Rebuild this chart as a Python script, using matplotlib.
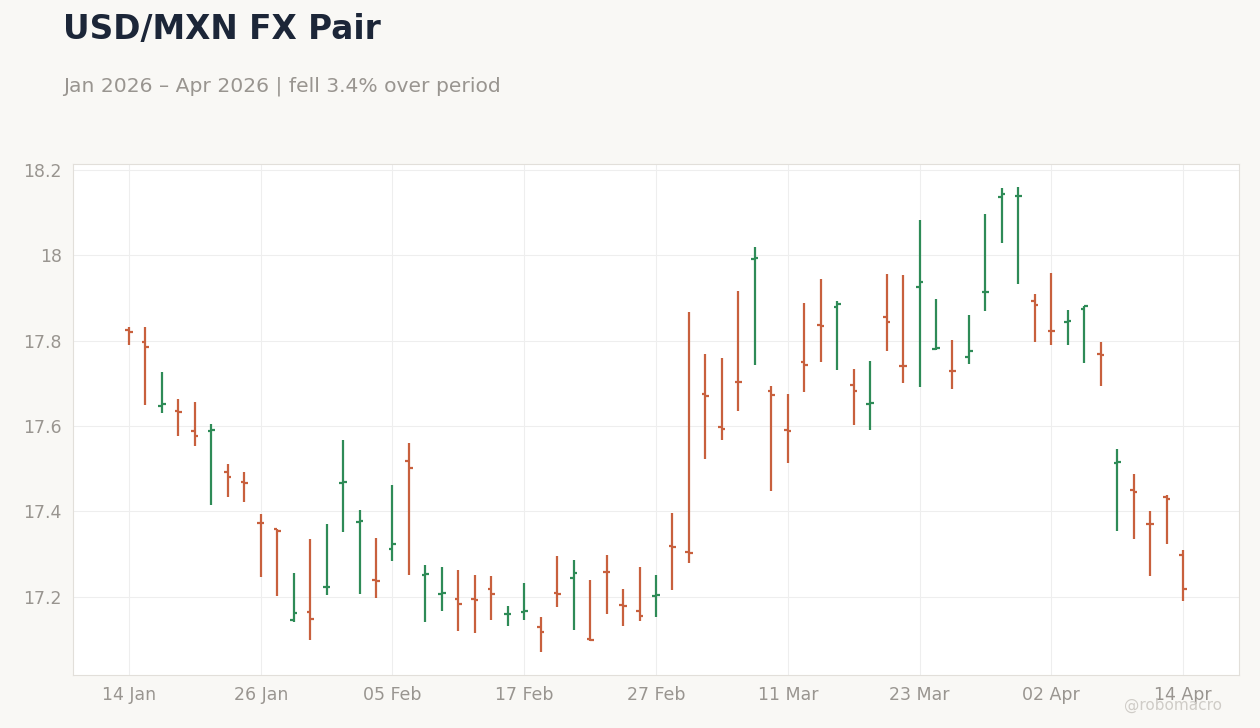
import matplotlib
matplotlib.use("Agg")
import matplotlib.pyplot as plt
import pandas as pd

dates = pd.bdate_range("2026-01-14", "2026-04-14")
opens = [17.825,17.797,17.648,17.635,17.589,17.589,17.493,17.469,17.373,17.358,17.146,17.165,17.223,17.467,17.376,17.240,17.312,17.518,
         17.251,17.207,17.196,17.194,17.219,17.160,17.165,17.130,17.208,17.244,17.102,17.259,17.181,17.168,17.203,17.320,17.306,
         17.675,17.598,17.704,17.992,17.683,17.591,17.750,17.837,17.879,17.697,17.652,17.856,17.741,
         17.926,17.781,17.729,17.762,17.914,18.137,18.139,17.893,17.823,17.844,17.874,17.769,17.514,17.451,17.371,17.434,17.298]
highs = [17.832,17.832,17.727,17.664,17.657,17.605,17.511,17.493,17.394,17.359,17.256,17.336,17.371,17.568,17.404,17.338,17.462,17.560,
         17.275,17.270,17.263,17.251,17.249,17.179,17.233,17.153,17.296,17.287,17.240,17.298,17.219,17.270,17.252,17.397,17.867,
         17.769,17.760,17.917,18.020,17.694,17.675,17.888,17.945,17.893,17.734,17.753,17.956,17.954,
         18.083,17.898,17.802,17.860,18.097,18.158,18.160,17.910,17.959,17.872,17.881,17.797,17.547,17.488,17.401,17.439,17.310]
lows = [17.790,17.650,17.631,17.577,17.554,17.415,17.434,17.422,17.247,17.202,17.141,17.099,17.205,17.352,17.207,17.198,17.284,17.252,
        17.141,17.167,17.120,17.116,17.146,17.132,17.146,17.071,17.177,17.123,17.097,17.160,17.132,17.144,17.153,17.216,17.280,
        17.523,17.568,17.636,17.743,17.448,17.514,17.680,17.750,17.732,17.603,17.591,17.776,17.701,
        17.692,17.778,17.687,17.746,17.870,18.029,17.933,17.797,17.790,17.790,17.748,17.694,17.355,17.336,17.249,17.324,17.191]
closes = [17.820,17.785,17.652,17.632,17.577,17.591,17.481,17.467,17.372,17.355,17.163,17.149,17.224,17.468,17.378,17.238,17.324,17.502,
          17.253,17.208,17.184,17.193,17.207,17.161,17.166,17.118,17.206,17.256,17.098,17.258,17.179,17.156,17.204,17.318,17.303,
          17.671,17.593,17.703,17.993,17.673,17.589,17.743,17.834,17.886,17.683,17.653,17.845,17.740,
          17.938,17.783,17.728,17.776,17.915,18.144,18.140,17.884,17.822,17.847,17.881,17.767,17.515,17.446,17.370,17.429,17.218]

UP = "#2e8b57"
DOWN = "#c8603d"

fig = plt.figure(figsize=(12.6, 7.28), dpi=100, facecolor="#f9f8f5")
ax = fig.add_axes([73/1260, 1-675/728, (1239-73)/1260, (675-164)/728])
ax.set_facecolor("white")

x = list(range(len(dates)))
cols = [UP if c >= o else DOWN for o, c in zip(opens, closes)]
ax.vlines(x, lows, highs, colors=cols, linewidth=1.6)
w = 0.22
ax.hlines(opens, [i - w for i in x], x, colors=cols, linewidth=1.6)
ax.hlines(closes, x, [i + w for i in x], colors=cols, linewidth=1.6)

ax.set_xlim(-3.4, 67.4)
ax.set_ylim(17.017, 18.214)
tick_idx = list(range(0, len(dates), 8))
ax.set_xticks(tick_idx)
ax.set_xticklabels([dates[i].strftime("%d %b") for i in tick_idx])
ax.set_yticks([17.2, 17.4, 17.6, 17.8, 18.0, 18.2])
ax.set_yticklabels(["17.2", "17.4", "17.6", "17.8", "18", "18.2"])
ax.tick_params(colors="#999590", labelsize=12.5, length=0, pad=8)
ax.grid(True, color="#eeeeee", linewidth=0.8)
ax.set_axisbelow(True)
for s in ax.spines.values():
    s.set_color("#e2dfda")
    s.set_linewidth(0.8)

fig.text(63/1260, 1-30/728, "USD/MXN FX Pair", fontsize=23.6, fontweight="bold", color="#1c2638", va="center")
fig.text(63/1260, 1-86/728, "Jan 2026 – Apr 2026 | fell 3.4% over period", fontsize=14.6, color="#999590", va="center")
fig.text(1222/1260, 1-705/728, "@robomacro", fontsize=11, color="#cfccc7", ha="right", va="center")

fig.savefig("out.png", dpi=100, facecolor=fig.get_facecolor())
